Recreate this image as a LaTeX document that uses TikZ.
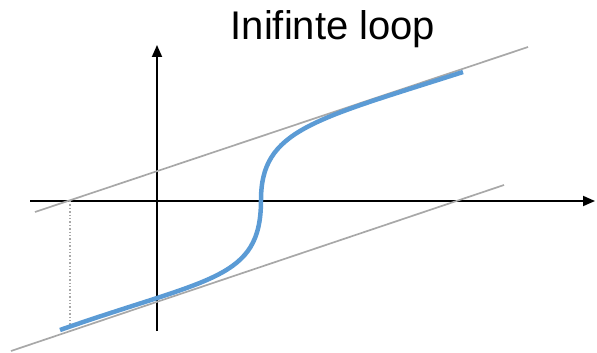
\documentclass[tikz,border=0pt]{standalone}
\usepackage{fontspec}
\setmainfont{Liberation Sans}
\usetikzlibrary{arrows.meta}
\definecolor{curveblue}{RGB}{91,155,213}
\definecolor{asymgray}{RGB}{168,168,168}
\begin{document}
\begin{tikzpicture}[x=1pt,y=-1pt,
  axis/.style={line width=1.8pt,-{Triangle[length=12pt,width=10pt]}},
  asym/.style={asymgray,line width=1.7pt},
  curve/.style={curveblue,line width=4.5pt}]
\useasboundingbox (0,0) rectangle (597,353);

\node[anchor=base,font=\fontsize{40}{48}\selectfont] (title) at (333,40) {Inifinte loop};

% axes
\coordinate (xstart) at (30,201);
\coordinate (xend) at (595,201);
\coordinate (ystart) at (157,331);
\coordinate (yend) at (157,45);
\draw[axis] (xstart) -- (xend);
\draw[axis] (ystart) -- (yend);

% asymptotes
\coordinate (upA) at (35,212);
\coordinate (upB) at (528,47);
\coordinate (loA) at (11,351);
\coordinate (loB) at (504,185);
\draw[asym] (upA) -- (upB);
\draw[asym] (loA) -- (loB);

% dotted drop
\coordinate (dropTop) at (70,201);
\coordinate (dropBot) at (70,326);
\draw[asymgray,line width=1.4pt,dotted] (dropTop) -- (dropBot);

% curve
\coordinate (cStart) at (60,330);
\coordinate (cMid) at (261,200);
\coordinate (cEnd) at (463,72);
\draw[curve] (cStart) .. controls (210,277.5) and (261,280) .. (cMid)
  .. controls (261,130) and (313,120) .. (cEnd);
\end{tikzpicture}
\end{document}
